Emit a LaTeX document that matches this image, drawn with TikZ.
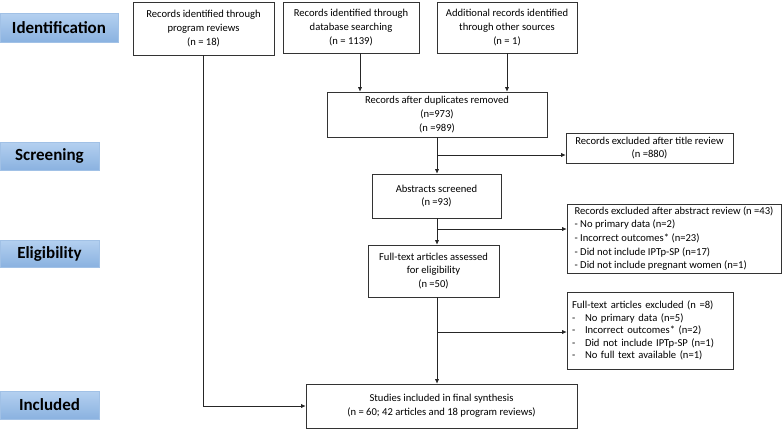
\documentclass[tikz,border=0pt]{standalone}
\usepackage{fontspec}
\setmainfont{Carlito}
\usetikzlibrary{arrows.meta,calc}
\definecolor{stagetop}{HTML}{B4D0F0}
\definecolor{stagebot}{HTML}{8AB2E0}
\tikzset{
  box/.style={draw=black!80, line width=0.6pt, fill=white, align=center, inner sep=2pt, font=\fontsize{10.6}{13.6}\selectfont},
  lbox/.style={box, align=left},
  stage/.style={top color=stagetop, bottom color=stagebot, draw=stagebot!80, line width=0.3pt, font=\fontsize{17}{20}\selectfont\bfseries, inner sep=0pt},
  conn/.style={line width=0.6pt, draw=black!85},
  arr/.style={conn, -{Latex[length=4.5pt,width=4pt]}},
}
\begin{document}
\begin{tikzpicture}[x=1pt,y=-1pt]
\useasboundingbox (0,0) rectangle (784,429);
% stage labels
\node[stage, minimum width=118pt, minimum height=29pt] (sid) at (59,27.5) {Identification};
\node[stage, minimum width=99pt, minimum height=28pt] (ssc) at (49.5,156) {Screening};
\node[stage, minimum width=99pt, minimum height=27pt] (sel) at (49.5,253.5) {Eligibility};
\node[stage, minimum width=99pt, minimum height=28pt] (sin) at (49.5,405) {Included};
% boxes
\node[box, minimum width=141pt, minimum height=53pt] (b1) at (203.5,28.5) {Records identified through\\program reviews\\(n = 18)};
\node[box, minimum width=136pt, minimum height=51pt] (b2) at (351,27.5) {Records identified through\\database searching\\(n = 1139)};
\node[box, minimum width=140pt, minimum height=51pt] (b3) at (507,27.5) {Additional records identified\\through other sources\\(n = 1)};
\node[box, minimum width=220pt, minimum height=45pt] (b4) at (437,114.5) {Records after duplicates removed\\(n=973)\\(n =989)};
\node[box, minimum width=167pt, minimum height=30pt] (ex1) at (649.5,148) {Records excluded after title review\\(n =880)};
\node[box, minimum width=129pt, minimum height=44pt] (abs) at (436.5,196) {Abstracts screened\\(n =93)};
\node[lbox, minimum width=214pt, minimum height=69pt] (ex2) at (674,238.5) {Records excluded after abstract review (n =43)\\- No primary data (n=2)\\- Incorrect outcomes* (n=23)\\- Did not include IPTp-SP (n=17)\\- Did not include pregnant women (n=1)};
\node[box, minimum width=131pt, minimum height=52pt] (full) at (433.5,271) {Full-text articles assessed\\for eligibility\\(n =50)};
\node[lbox, minimum width=166pt, minimum height=77pt, text width=156pt, inner sep=5pt, font=\fontsize{10.6}{12.6}\selectfont] (ex3) at (650,330.5) {Full-text articles excluded (n =8)\\
  \makebox[13pt][l]{-}No primary data (n=5)\\
  \makebox[13pt][l]{-}Incorrect outcomes* (n=2)\\
  \makebox[13pt][l]{-}Did not include IPTp-SP (n=1)\\
  \makebox[13pt][l]{-}No full text available (n=1)};
\node[box, minimum width=271pt, minimum height=44pt] (stud) at (441.5,406) {Studies included in final synthesis\\(n = 60; 42 articles and 18 program reviews)};
% connectors
\coordinate (col) at (437,0);
\coordinate (c2) at (360,0);
\draw[arr] (c2 |- b2.south) -- (c2 |- b4.north);
\draw[arr] (b3.south) -- (b3.south |- b4.north);
\draw[arr] (col |- b4.south) -- (col |- abs.north);
\coordinate (j1) at (437,155);
\draw[arr] (j1) -- (j1 -| ex1.west);
\draw[arr] (col |- abs.south) -- (col |- full.north);
\coordinate (j2) at (437,229);
\draw[arr] (j2) -- (j2 -| ex2.west);
\draw[arr] (col |- full.south) -- (col |- stud.north);
\coordinate (j3) at (437,332);
\draw[arr] (j3) -- (j3 -| ex3.west);
\coordinate (j4) at (b1.south |- stud.west);
\draw[arr] (b1.south) -- (j4) -- (stud.west);
\end{tikzpicture}
\end{document}
